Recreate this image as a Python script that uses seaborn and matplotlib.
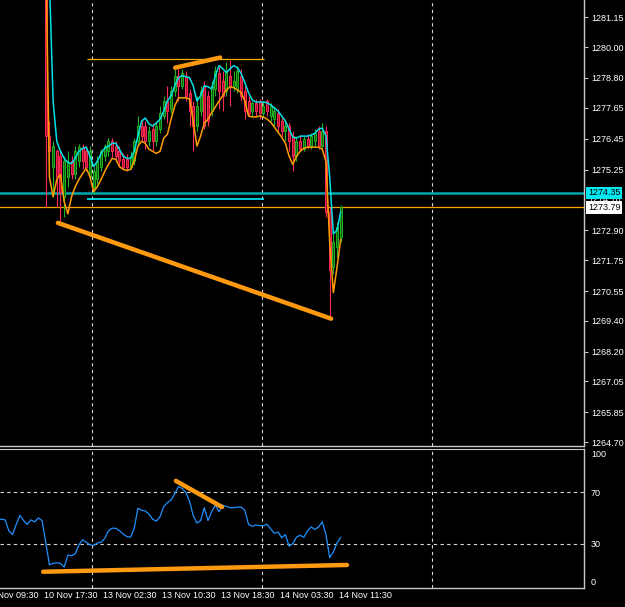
import matplotlib
matplotlib.use("Agg")
import matplotlib.pyplot as plt
import matplotlib.transforms as mtransforms
import seaborn as sns

# ---------------- data ----------------
bars = list(range(13, 94))
opens = [1287.68, 1276.55, 1275.37, 1275.96, 1275.77, 1274.20, 1274.98, 1275.57, 1275.10, 1275.57,
         1276.12, 1275.96, 1274.98, 1274.59, 1274.87, 1275.37, 1275.77, 1275.96, 1276.35, 1276.16,
         1275.96, 1275.65, 1275.65, 1275.37, 1275.57, 1276.35, 1276.94, 1276.94, 1276.35, 1276.82,
         1276.35, 1276.82, 1277.33, 1277.91, 1277.60, 1278.30, 1278.89, 1278.50, 1278.89, 1278.23,
         1277.72, 1276.94, 1277.52, 1278.50, 1278.11, 1277.52, 1278.38, 1279.01, 1278.70, 1278.30,
         1278.89, 1278.50, 1278.38, 1278.89, 1278.30, 1277.91, 1277.52, 1277.84, 1277.91, 1277.45,
         1277.91, 1277.33, 1277.21, 1277.45, 1277.13, 1276.74, 1276.94, 1276.55, 1275.77, 1276.35,
         1276.04, 1276.43, 1276.16, 1276.35, 1276.74, 1276.16, 1276.74, 1273.62, 1271.47, 1272.25,
         1272.64]
closes = [1276.55, 1275.96, 1276.16, 1274.98, 1274.40, 1275.57, 1275.49, 1275.10, 1275.96, 1276.12,
          1275.57, 1275.37, 1275.96, 1275.18, 1275.57, 1275.96, 1276.16, 1276.35, 1275.96, 1275.77,
          1275.57, 1275.37, 1275.34, 1275.77, 1276.35, 1276.94, 1276.55, 1276.35, 1276.74, 1276.35,
          1276.94, 1277.45, 1277.91, 1277.52, 1278.30, 1278.89, 1278.50, 1279.01, 1278.11, 1277.52,
          1276.94, 1277.72, 1278.30, 1276.94, 1277.13, 1278.50, 1279.09, 1278.30, 1278.11, 1279.09,
          1278.50, 1278.70, 1279.09, 1278.11, 1277.52, 1277.45, 1277.84, 1277.52, 1277.45, 1277.72,
          1277.52, 1277.72, 1277.52, 1276.94, 1276.74, 1276.94, 1276.35, 1275.77, 1276.35, 1276.04,
          1276.43, 1276.16, 1276.55, 1276.66, 1276.16, 1276.74, 1273.62, 1271.35, 1272.45, 1273.03,
          1273.79]
highs = [1289.63, 1277.13, 1276.35, 1276.04, 1275.96, 1275.77, 1275.96, 1275.77, 1276.16, 1276.23,
         1276.23, 1276.16, 1276.16, 1275.37, 1275.77, 1276.04, 1276.23, 1276.47, 1276.47, 1276.35,
         1276.16, 1275.88, 1275.84, 1275.96, 1276.47, 1277.33, 1277.21, 1277.13, 1276.94, 1277.05,
         1277.13, 1277.72, 1278.11, 1278.50, 1278.50, 1279.16, 1279.16, 1279.16, 1279.09, 1278.38,
         1277.91, 1278.11, 1278.50, 1278.70, 1278.30, 1278.70, 1279.28, 1279.28, 1279.09, 1279.40,
         1279.48, 1279.09, 1279.28, 1279.16, 1278.50, 1278.11, 1277.91, 1277.99, 1277.99, 1277.91,
         1277.99, 1277.84, 1277.72, 1277.60, 1277.33, 1277.13, 1277.05, 1276.74, 1276.55, 1276.55,
         1276.55, 1276.62, 1276.66, 1276.82, 1276.94, 1277.05, 1276.94, 1273.81, 1272.76, 1273.23,
         1273.89]
lows = [1273.81, 1275.37, 1274.20, 1273.81, 1273.23, 1273.42, 1274.59, 1274.87, 1274.87, 1275.37,
        1275.26, 1275.18, 1274.87, 1274.32, 1274.71, 1275.18, 1275.57, 1275.77, 1275.73, 1275.65,
        1275.37, 1275.26, 1275.18, 1275.26, 1275.45, 1276.16, 1276.35, 1276.04, 1276.16, 1275.96,
        1276.16, 1276.66, 1277.21, 1277.05, 1277.45, 1278.11, 1277.91, 1278.38, 1277.91, 1276.94,
        1275.96, 1276.74, 1277.33, 1276.82, 1276.94, 1277.33, 1278.11, 1277.60, 1277.52, 1278.11,
        1277.72, 1278.30, 1278.23, 1277.91, 1277.21, 1277.33, 1277.33, 1277.33, 1277.21, 1277.29,
        1277.33, 1277.13, 1276.94, 1276.74, 1276.55, 1276.35, 1275.96, 1275.18, 1275.57, 1275.96,
        1275.96, 1276.04, 1276.04, 1276.16, 1276.04, 1276.04, 1273.42, 1269.59, 1271.20, 1271.86,
        1272.45]
upper_band = [1283.77, 1282.60, 1277.91, 1276.35, 1275.96, 1275.69, 1275.53, 1275.49, 1275.69, 1275.96,
              1276.08, 1276.12, 1275.77, 1275.37, 1275.57, 1275.88, 1276.08, 1276.16, 1276.27, 1276.27,
              1276.04, 1275.77, 1275.69, 1275.69, 1275.96, 1276.55, 1277.13, 1277.25, 1277.02, 1276.94,
              1277.05, 1277.21, 1277.52, 1277.91, 1278.11, 1278.50, 1278.81, 1278.89, 1278.85, 1278.81,
              1278.50, 1277.91, 1278.11, 1278.50, 1278.46, 1278.38, 1278.89, 1279.28, 1279.16, 1279.01,
              1279.16, 1279.28, 1279.20, 1278.97, 1278.62, 1278.23, 1277.95, 1277.87, 1277.87, 1277.87,
              1277.84, 1277.76, 1277.64, 1277.52, 1277.33, 1277.13, 1276.82, 1276.51, 1276.47, 1276.55,
              1276.55, 1276.55, 1276.59, 1276.66, 1276.82, 1276.86, 1276.55, 1274.98, 1272.76, 1272.91,
              1273.62]
lower_band = [1283.77, 1274.98, 1274.20, 1274.87, 1275.06, 1274.01, 1273.54, 1274.20, 1274.59, 1274.87,
              1275.10, 1275.30, 1274.98, 1274.40, 1274.59, 1274.87, 1275.18, 1275.45, 1275.69, 1275.65,
              1275.37, 1275.26, 1275.22, 1275.26, 1275.57, 1276.16, 1276.35, 1276.27, 1276.04, 1275.96,
              1275.88, 1275.96, 1276.47, 1276.62, 1277.21, 1277.72, 1278.03, 1278.03, 1278.03, 1277.99,
              1277.13, 1276.16, 1276.55, 1277.05, 1277.21, 1277.45, 1277.68, 1277.91, 1278.11, 1278.34,
              1278.46, 1278.42, 1278.34, 1278.23, 1277.91, 1277.33, 1277.29, 1277.29, 1277.33, 1277.29,
              1277.21, 1277.09, 1276.90, 1276.70, 1276.51, 1276.27, 1275.77, 1275.45, 1275.77, 1275.96,
              1276.08, 1276.12, 1276.12, 1276.12, 1276.12, 1276.04, 1275.57, 1272.45, 1270.49, 1271.47,
              1272.56]

rsi_bars = list(range(0, 94))
rsi = [49, 49, 48.5, 40, 37, 45, 52, 48, 45, 48.5,
       47, 50, 48, 31, 13.5, 14.5, 15, 14.5, 11.7, 21,
       20.5, 22, 29, 33, 31, 29, 28.5, 30.5, 31, 34,
       40, 42, 42, 40, 37.5, 35.5, 35, 42, 57.6, 56,
       55.5, 53, 49, 47.5, 51, 59, 62, 64, 69, 74.5,
       73, 70, 63, 52, 46, 48, 58, 48, 55, 60,
       55, 60, 59, 58, 58, 58.5, 58.5, 56, 45, 43.5,
       44.5, 44, 44, 45, 41.5, 38, 39, 34.5, 37, 28,
       30, 35, 36.5, 35, 40, 43, 41, 43, 47, 37,
       19, 23.5, 30.5, 35]

price_ticks = [1281.15, 1280.00, 1278.80, 1277.65, 1276.45, 1275.25, 1272.90,
               1271.75, 1270.55, 1269.40, 1268.20, 1267.05, 1265.85, 1264.70]
price_tick_labels = ["1281.15", "1280.00", "1278.80", "1277.65", "1276.45", "1275.25", "1272.90",
                     "1271.75", "1270.55", "1269.40", "1268.20", "1267.05", "1265.85", "1264.70"]
rsi_ticks = [100, 70, 30, 0]
rsi_levels = [70, 30]
time_label_bars = [-4, 12, 28, 44, 60, 76, 92]
time_labels = ["10 Nov 09:30", "10 Nov 17:30", "13 Nov 02:30", "13 Nov 10:30",
               "13 Nov 18:30", "14 Nov 03:30", "14 Nov 11:30"]
grid_bars = [25.55, 71.65, 117.75]

hline_teal = 1274.35
bid_price = 1273.79
short_cyan_level = 1274.10
short_gold_level = 1279.55
short_span = [24.2, 72.2]

trend_main_x, trend_main_y = [16.3, 90.4], [1273.19, 1269.48]
trend_top_x, trend_top_y = [48.1, 60.3], [1279.20, 1279.59]
rsi_trend_low_x, rsi_trend_low_y = [12.3, 94.7], [8.0, 13.3]
rsi_trend_high_x, rsi_trend_high_y = [48.3, 60.8], [79.0, 58.6]

# ---------------- style ----------------
sns.set_style("dark", rc={"axes.facecolor": "black", "figure.facecolor": "black",
                          "axes.edgecolor": "#c8c8c8"})
plt.rcParams["font.family"] = ["Liberation Sans", "DejaVu Sans"]
FS = 6.5
GRID_C = "#d8d8d8"

fig = plt.figure(figsize=(6.25, 6.07), dpi=100)
fig.patch.set_facecolor("black")
ax = fig.add_axes([0, 1 - 446 / 607, 584 / 625, 446 / 607])
ax2 = fig.add_axes([0, 1 - 588 / 607, 584 / 625, 139 / 607])

XLIM = (0.6, 0.6 + 584 / 3.6875)

for a in (ax, ax2):
    a.set_facecolor("black")
    a.set_xlim(*XLIM)
    a.grid(False)
    for s in ("left", "top"):
        a.spines[s].set_visible(False)
    for s in ("right", "bottom"):
        a.spines[s].set_color("#c8c8c8")
        a.spines[s].set_linewidth(1.0)
ax2.spines["top"].set_visible(True)
ax2.spines["top"].set_color("#c8c8c8")

# ---------------- main panel ----------------
ax.set_ylim(1264.55, 1281.82)
for g in grid_bars:
    ax.axvline(g, color=GRID_C, lw=0.8, ls=(0, (3, 3)), zorder=1)

# horizontal levels
ax.axhline(hline_teal, color="#00a8b0", lw=1.8, zorder=2)
ax.axhline(bid_price, color="#ffa000", lw=0.9, zorder=2)
ax.hlines(short_cyan_level, short_span[0], short_span[1], color="#00f0ff", lw=1.2, zorder=2)
ax.hlines(short_gold_level, short_span[0], short_span[1], color="#ffb000", lw=0.9, zorder=2)

# candles
up_edge, up_face = "#22b422", "#0f5f0f"
dn_edge, dn_face = "#ff2a55", "#a8102c"
for b, o, h, l, c in zip(bars, opens, highs, lows, closes):
    up = c >= o
    ec = up_edge if up else dn_edge
    fc = up_face if up else dn_face
    ax.vlines(b, l, h, color=ec, lw=0.8, zorder=3)
    ax.bar(b, max(abs(c - o), 0.03), bottom=min(o, c), width=0.55,
           color=fc, edgecolor=ec, linewidth=0.7, zorder=4)

sns.lineplot(x=bars, y=upper_band, ax=ax, color="#00e0e8", linewidth=1.1, zorder=5, legend=False)
sns.lineplot(x=bars, y=lower_band, ax=ax, color="#ff9d00", linewidth=1.1, zorder=5, legend=False)

ax.plot(trend_main_x, trend_main_y, color="#ff9a10", lw=3.2, solid_capstyle="round", zorder=6)
ax.plot(trend_top_x, trend_top_y, color="#ff9a10", lw=3.2, solid_capstyle="round", zorder=6)

ax.yaxis.tick_right()
ax.set_yticks(price_ticks)
ax.set_yticklabels(price_tick_labels)
ax.tick_params(axis="y", which="both", right=True, left=False, length=3, width=0.8,
               color="#c8c8c8", labelcolor="white", labelsize=FS, pad=2)
ax.set_xticks([])
ax.set_xlabel("")
ax.set_ylabel("")

# right side price boxes
tr = mtransforms.blended_transform_factory(ax.transAxes, ax.transData) + \
    mtransforms.ScaledTranslation(4 / 100, 0, fig.dpi_scale_trans)
ax.text(1.0, short_cyan_level, "1274.10", transform=tr, ha="left", va="center",
        color="white", fontsize=FS, zorder=7, clip_on=False)
ax.text(1.0, hline_teal, "1274.35", transform=tr, ha="left", va="center", color="black",
        fontsize=FS, zorder=8, clip_on=False,
        bbox=dict(boxstyle="square,pad=0.18", fc="#00e8f0", ec="none"))
ax.text(1.0, bid_price, "1273.79", transform=tr, ha="left", va="center", color="black",
        fontsize=FS, zorder=8, clip_on=False,
        bbox=dict(boxstyle="square,pad=0.18", fc="white", ec="none"))

# ---------------- lower panel ----------------
ax2.set_ylim(-4.7, 103.9)
for g in grid_bars:
    ax2.axvline(g, color=GRID_C, lw=0.8, ls=(0, (3, 3)), zorder=1)
for lv in rsi_levels:
    ax2.axhline(lv, color=GRID_C, lw=0.8, ls=(0, (3, 3)), zorder=1)

sns.lineplot(x=rsi_bars, y=rsi, ax=ax2, color="#1e90ff", linewidth=0.9, zorder=3, legend=False)
ax2.plot(rsi_trend_low_x, rsi_trend_low_y, color="#ff9a10", lw=3.2, solid_capstyle="round", zorder=4)
ax2.plot(rsi_trend_high_x, rsi_trend_high_y, color="#ff9a10", lw=3.2, solid_capstyle="round", zorder=4)

ax2.yaxis.tick_right()
ax2.set_yticks(rsi_ticks)
ax2.set_yticklabels([str(v) for v in rsi_ticks])
ax2.tick_params(axis="y", length=0, labelcolor="white", labelsize=FS, pad=5)
ax2.set_xticks([b for b in time_label_bars if b >= XLIM[0]])
ax2.tick_params(axis="x", length=4, width=0.8, color="#c8c8c8", labelbottom=False, direction="out")
ax2.set_xlabel("")
ax2.set_ylabel("")

trx = mtransforms.blended_transform_factory(ax2.transData, ax2.transAxes) + \
    mtransforms.ScaledTranslation(2 / 100, -3 / 100, fig.dpi_scale_trans)
for b, lab in zip(time_label_bars, time_labels):
    ax2.text(b, 0, lab, transform=trx, ha="left", va="top", color="white",
             fontsize=FS, clip_on=False)

fig.savefig("out.png", dpi=100, facecolor="black")
